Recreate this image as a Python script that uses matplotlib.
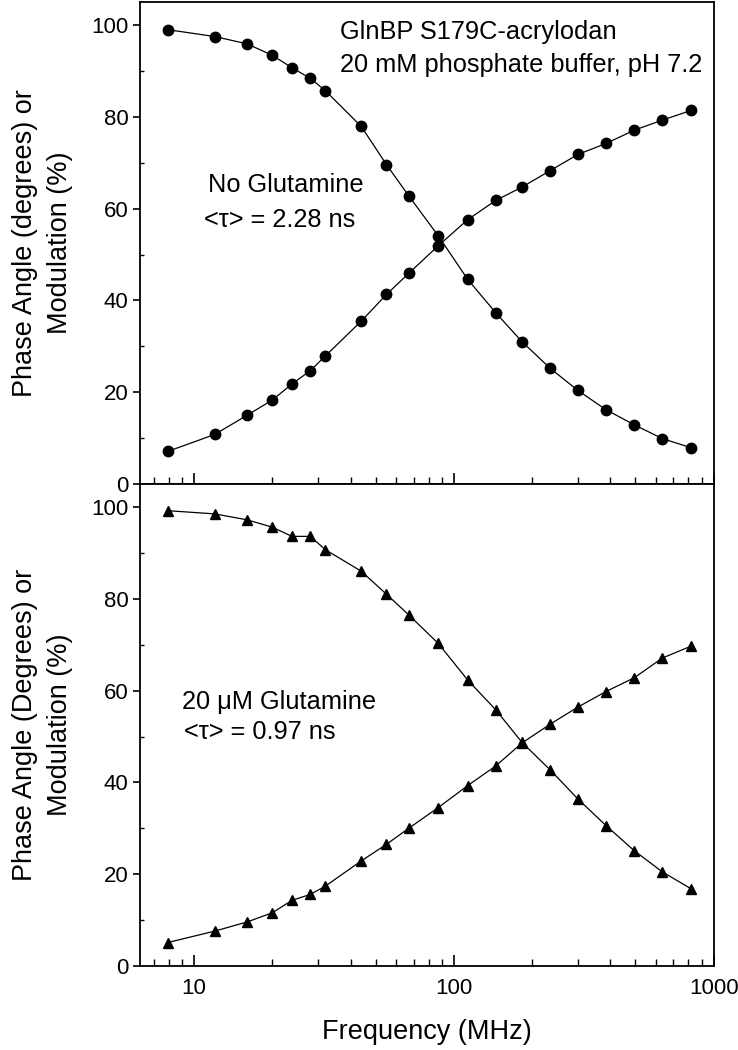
import numpy as np
from matplotlib import pyplot as plt
from matplotlib.ticker import LogLocator, MultipleLocator, NullFormatter

plt.rcParams['font.family'] = ['Liberation Sans', 'DejaVu Sans']

# modulation frequencies (MHz)
freq = [7.9, 12.0, 16.0, 20.0, 23.8, 28.0, 32.0, 44.0, 55.0, 67.0,
        87.0, 113, 145, 183, 235, 300, 385, 495, 635, 820]

# no glutamine
mod_free = [99.0, 97.5, 95.9, 93.4, 90.7, 88.4, 85.7, 77.9, 69.6, 62.8,
            54.1, 44.6, 37.3, 31.0, 25.2, 20.4, 16.2, 12.9, 9.9, 7.9]
phase_free = [7.1, 10.8, 15.0, 18.3, 21.8, 24.7, 27.9, 35.5, 41.3, 45.9,
              51.9, 57.6, 61.8, 64.7, 68.3, 71.8, 74.2, 77.1, 79.3, 81.4]

# 20 uM glutamine
mod_gln = [99.2, 98.5, 97.2, 95.6, 93.6, 93.6, 90.7, 86.0, 81.0, 76.5,
           70.3, 62.3, 55.8, 48.7, 42.7, 36.4, 30.6, 25.1, 20.5, 16.8]
phase_gln = [5.1, 7.6, 9.6, 11.6, 14.3, 15.6, 17.4, 22.9, 26.5, 30.0,
             34.5, 39.3, 43.6, 48.6, 52.7, 56.4, 59.8, 62.8, 67.1, 69.7]


def style_axis(ax):
    ax.set_xscale('log')
    ax.set_xlim(6.2, 1000)
    ax.set_ylim(0, 105)
    ax.yaxis.set_major_locator(MultipleLocator(20))
    ax.yaxis.set_minor_locator(MultipleLocator(10))
    ax.xaxis.set_major_locator(LogLocator(base=10))
    ax.xaxis.set_minor_locator(LogLocator(base=10, subs=np.arange(2, 10)))
    ax.xaxis.set_minor_formatter(NullFormatter())
    ax.tick_params(axis='x', which='major', direction='in', length=8, width=1.2)
    ax.tick_params(axis='x', which='minor', direction='in', length=5, width=1)
    ax.tick_params(axis='y', which='major', direction='out', length=5, width=1.2,
                   labelsize=16)
    ax.tick_params(axis='y', which='minor', direction='in', length=3, width=1)
    ax.tick_params(axis='x', labelsize=16, pad=9)
    for sp in ax.spines.values():
        sp.set_linewidth(1.3)


fig = plt.figure(figsize=(7.38, 10.5), dpi=100)
ax1 = fig.add_axes([0.19, 0.539, 0.777, 0.459])
ax2 = fig.add_axes([0.19, 0.080, 0.777, 0.459], sharex=ax1)

for ax, m, p, mk in [(ax1, mod_free, phase_free, 'o'), (ax2, mod_gln, phase_gln, '^')]:
    ax.plot(freq, m, color='black', lw=0.9)
    ax.plot(freq, p, color='black', lw=0.9)
    ax.plot(freq, m, mk, color='black', ms=7.5, ls='none')
    ax.plot(freq, p, mk, color='black', ms=7.5, ls='none')
    style_axis(ax)

ax1.tick_params(axis='x', labelbottom=False)
ax2.set_xticks([10, 100, 1000])
ax2.set_xticklabels(['10', '100', '1000'])

ax1.set_ylabel('Phase Angle (degrees) or\nModulation (%)', fontsize=19.5,
               linespacing=1.45)
ax2.set_ylabel('Phase Angle (Degrees) or\nModulation (%)', fontsize=19.5,
               linespacing=1.45)
ax1.yaxis.set_label_coords(-0.118, 0.5)
ax2.yaxis.set_label_coords(-0.118, 0.5)
ax2.set_xlabel('Frequency (MHz)', fontsize=19.5, labelpad=14)

fs = 18.3
ax1.text(0.348, 0.938, 'GlnBP S179C-acrylodan', transform=ax1.transAxes,
         fontsize=fs, va='center', ha='left')
ax1.text(0.348, 0.869, '20 mM phosphate buffer, pH 7.2', transform=ax1.transAxes,
         fontsize=fs, va='center', ha='left')
ax1.text(0.118, 0.620, 'No Glutamine', transform=ax1.transAxes,
         fontsize=fs, va='center', ha='left')
ax1.text(0.111, 0.548, '<\u03c4> = 2.28 ns', transform=ax1.transAxes,
         fontsize=fs, va='center', ha='left')
ax2.text(0.072, 0.548, '20 \u03bcM Glutamine', transform=ax2.transAxes,
         fontsize=fs, va='center', ha='left')
ax2.text(0.077, 0.485, '<\u03c4> = 0.97 ns', transform=ax2.transAxes,
         fontsize=fs, va='center', ha='left')

fig.savefig('out.png', dpi=100)
